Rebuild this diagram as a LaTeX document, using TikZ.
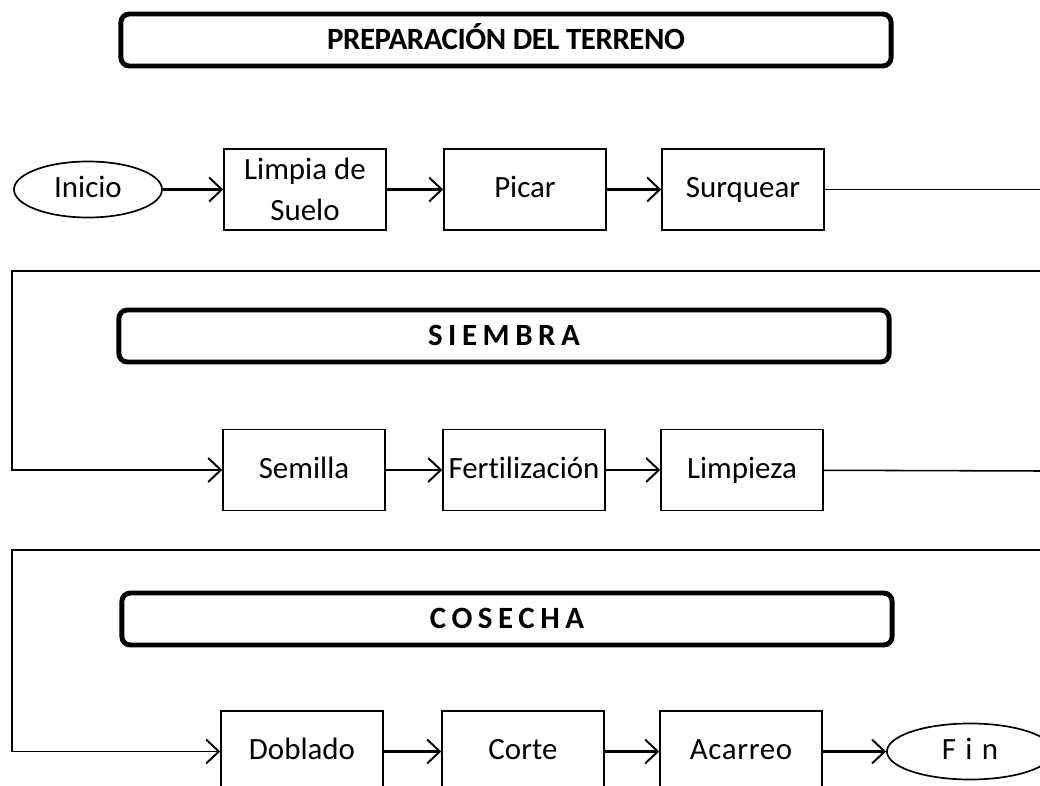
\documentclass[tikz,border=0pt]{standalone}
\usepackage{fontspec}
\setmainfont{Carlito}[Ligatures=NoCommon]
\usetikzlibrary{arrows.meta,shapes.geometric}

\begin{document}
\begin{tikzpicture}[x=0.025cm,y=-0.025cm,
  etapa/.style={draw,line width=3.5pt,rounded corners=6pt,minimum width=19.25cm,
    minimum height=1.3cm,inner sep=0pt,text height=14pt,text depth=0pt,
    font=\fontsize{22}{26}\selectfont\bfseries},
  paso/.style={draw,line width=1pt,minimum width=4.05cm,minimum height=2.025cm,
    inner sep=0pt,text height=15pt,text depth=3pt,
    font=\fontsize{22}{29}\selectfont},
  extremo/.style={draw,ellipse,line width=1.2pt,minimum width=3.7cm,minimum height=1.4cm,
    inner sep=0pt,text height=15pt,text depth=3pt,font=\fontsize{22}{26}\selectfont},
  punta/.tip={Straight Barb[length=9pt,width=17pt,line width=1.4pt]},
  flecha/.style={line width=1.6pt,-punta},
  linea/.style={line width=1.1pt}]
  \useasboundingbox (0,0) rectangle (1040,786);

  % Stage titles
  \node[etapa] (terreno) at (506,40) {\addfontfeature{LetterSpace=-1.5}PREPARACIÓN DEL TERRENO};
  \node[etapa] (siembra) at (504,336) {\addfontfeature{LetterSpace=18}SIEMBRA};
  \node[etapa] (cosecha) at (507,619) {\addfontfeature{LetterSpace=18}COSECHA};

  % Row 1
  \node[extremo] (inicio) at (88,189.5) {Inicio};
  \node[paso,align=center,text height={},text depth={}] (limpia) at (305,189.5) {Limpia de\\Suelo};
  \node[paso] (picar) at (525,189.5) {Picar};
  \node[paso] (surquear) at (743,189.5) {Surquear};

  % Row 2
  \node[paso] (semilla) at (304,470) {Semilla};
  \node[paso] (fertilizacion) at (524,470) {Fertilización};
  \node[paso] (limpieza) at (742,470) {Limpieza};

  % Row 3
  \node[paso] (doblado) at (302,751.5) {Doblado};
  \node[paso] (corte) at (523,751.5) {Corte};
  \node[paso] (acarreo) at (741,751.5) {\addfontfeature{LetterSpace=2}Acarreo};
  \node[extremo,minimum width=4.15cm] (fin) at (970,751.5) {\addfontfeature{LetterSpace=30}Fin};

  % Edge points of the return lines
  \coordinate (der1) at (1040,189.5);
  \coordinate (der2) at (1040,271);
  \coordinate (izq2) at (12,271);
  \coordinate (der3) at (1040,471);
  \coordinate (der4) at (1040,550);
  \coordinate (izq4) at (12,550);

  % Connectors
  \draw[flecha] (inicio) -- (limpia);
  \draw[flecha] (limpia) -- (picar);
  \draw[flecha] (picar) -- (surquear);
  \draw[linea] (surquear) -- (der1);
  \draw[linea,-punta] (der2) -- (izq2) |- (semilla);
  \draw[flecha] (semilla) -- (fertilizacion);
  \draw[flecha] (fertilizacion) -- (limpieza);
  \draw[linea] (limpieza) -- (der3);
  \draw[linea,-punta] (der4) -- (izq4) |- (doblado);
  \draw[flecha] (doblado) -- (corte);
  \draw[flecha] (corte) -- (acarreo);
  \draw[flecha] (acarreo) -- (fin);
\end{tikzpicture}
\end{document}
